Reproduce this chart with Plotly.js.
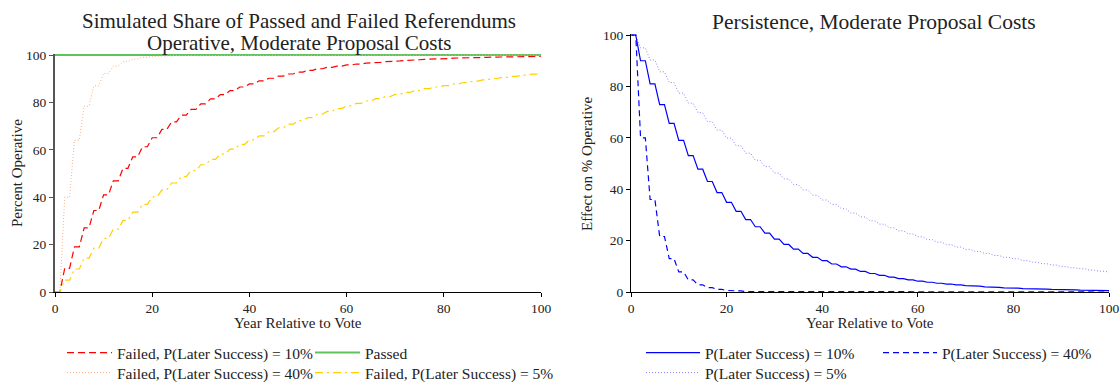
<!DOCTYPE html>
<html>
<head>
<meta charset="utf-8">
<script src="https://cdn.plot.ly/plotly-3.0.1.min.js"></script>
<style>html,body{margin:0;padding:0;background:#fff;}#chart{width:1120px;height:382px;}</style>
</head>
<body>
<div id="chart"></div>
<script>
// Years relative to vote
var years = [0,1,2,3,4,5,6,7,8,9,10,11,12,13,14,15,16,17,18,19,20,21,22,23,24,25,26,27,28,29,30,31,32,33,34,35,36,37,38,39,40,41,42,43,44,45,46,47,48,49,50,51,52,53,54,55,56,57,58,59,60,61,62,63,64,65,66,67,68,69,70,71,72,73,74,75,76,77,78,79,80,81,82,83,84,85,86,87,88,89,90,91,92,93,94,95,96,97,98,99,100];

// Left panel: percent operative
var failedP10 = [0,0,10,10,19,19,27.1,27.1,34.4,34.4,41.0,41.0,46.9,46.9,52.2,52.2,57.0,57.0,61.3,61.3,65.1,65.1,68.6,68.6,71.8,71.8,74.6,74.6,77.1,77.1,79.4,79.4,81.5,81.5,83.3,83.3,85.0,85.0,86.5,86.5,87.8,87.8,89.1,89.1,90.2,90.2,91.1,91.1,92.0,92.0,92.8,92.8,93.5,93.5,94.2,94.2,94.8,94.8,95.3,95.3,95.8,95.8,96.2,96.2,96.6,96.6,96.9,96.9,97.2,97.2,97.5,97.5,97.7,97.7,98.0,98.0,98.2,98.2,98.4,98.4,98.5,98.5,98.7,98.7,98.8,98.8,98.9,98.9,99.0,99.0,99.1,99.1,99.2,99.2,99.3,99.3,99.4,99.4,99.4,99.4,99.5];
var passedYears = [0,100];
var passedValues = [100,100];
var failedP40 = [0,0,40,40,64,64,78.4,78.4,87.0,87.0,92.2,92.2,95.3,95.3,97.2,97.2,98.3,98.3,99.0,99.0,99.4,99.4,99.6,99.6,99.8,99.8,99.9,99.9,99.9,99.9,100,100,100,100,100,100,100,100,100,100,100,100,100,100,100,100,100,100,100,100,100,100,100,100,100,100,100,100,100,100,100,100,100,100,100,100,100,100,100,100,100,100,100,100,100,100,100,100,100,100,100,100,100,100,100,100,100,100,100,100,100,100,100,100,100,100,100,100,100,100,100];
var failedP5 = [0,0,5,5,9.7,9.7,14.3,14.3,18.5,18.5,22.6,22.6,26.5,26.5,30.2,30.2,33.7,33.7,37.0,37.0,40.1,40.1,43.1,43.1,46.0,46.0,48.7,48.7,51.2,51.2,53.7,53.7,56.0,56.0,58.2,58.2,60.3,60.3,62.3,62.3,64.2,64.2,65.9,65.9,67.6,67.6,69.3,69.3,70.8,70.8,72.3,72.3,73.6,73.6,75.0,75.0,76.2,76.2,77.4,77.4,78.5,78.5,79.6,79.6,80.6,80.6,81.6,81.6,82.5,82.5,83.4,83.4,84.2,84.2,85.0,85.0,85.8,85.8,86.5,86.5,87.1,87.1,87.8,87.8,88.4,88.4,89.0,89.0,89.5,89.5,90.1,90.1,90.6,90.6,91.0,91.0,91.5,91.5,91.9,91.9,92.3];

// Right panel: effect on % operative (persistence)
var persistP10 = [100,100,90,90,81,81,72.9,72.9,65.6,65.6,59.0,59.0,53.1,53.1,47.8,47.8,43.0,43.0,38.7,38.7,34.9,34.9,31.4,31.4,28.2,28.2,25.4,25.4,22.9,22.9,20.6,20.6,18.5,18.5,16.7,16.7,15.0,15.0,13.5,13.5,12.2,12.2,10.9,10.9,9.8,9.8,8.9,8.9,8.0,8.0,7.2,7.2,6.5,6.5,5.8,5.8,5.2,5.2,4.7,4.7,4.2,4.2,3.8,3.8,3.4,3.4,3.1,3.1,2.8,2.8,2.5,2.5,2.3,2.3,2.0,2.0,1.8,1.8,1.6,1.6,1.5,1.5,1.3,1.3,1.2,1.2,1.1,1.1,1.0,1.0,0.9,0.9,0.8,0.8,0.7,0.7,0.6,0.6,0.6,0.6,0.5];
var persistP40 = [100,100,60,60,36,36,21.6,21.6,13.0,13.0,7.8,7.8,4.7,4.7,2.8,2.8,1.7,1.7,1.0,1.0,0.6,0.6,0.4,0.4,0.2,0.2,0.1,0.1,0.1,0.1,0,0,0,0,0,0,0,0,0,0,0,0,0,0,0,0,0,0,0,0,0,0,0,0,0,0,0,0,0,0,0,0,0,0,0,0,0,0,0,0,0,0,0,0,0,0,0,0,0,0,0,0,0,0,0,0,0,0,0,0,0,0,0,0,0,0,0,0,0,0,0];
var persistP5 = [100,100,95,95,90.3,90.3,85.7,85.7,81.5,81.5,77.4,77.4,73.5,73.5,69.8,69.8,66.3,66.3,63.0,63.0,59.9,59.9,56.9,56.9,54.0,54.0,51.3,51.3,48.8,48.8,46.3,46.3,44.0,44.0,41.8,41.8,39.7,39.7,37.7,37.7,35.8,35.8,34.1,34.1,32.4,32.4,30.7,30.7,29.2,29.2,27.7,27.7,26.4,26.4,25.0,25.0,23.8,23.8,22.6,22.6,21.5,21.5,20.4,20.4,19.4,19.4,18.4,18.4,17.5,17.5,16.6,16.6,15.8,15.8,15.0,15.0,14.2,14.2,13.5,13.5,12.9,12.9,12.2,12.2,11.6,11.6,11.0,11.0,10.5,10.5,9.9,9.9,9.4,9.4,9.0,9.0,8.5,8.5,8.1,8.1,7.7];

var tickVals = [0,20,40,60,80,100];
var tickText = ['0','20','40','60','80','100'];

var FONT = 'Liberation Serif, serif';
var W = 1120, H = 382;
function px(x){ return x / W; }
function py(y){ return 1 - y / H; }

var traces = [
  {x: years, y: failedP10, xaxis:'x', yaxis:'y', mode:'lines', name:'Failed, P(Later Success) = 10%', legend:'legend',
   line:{color:'#ff0000', width:1.2, dash:'7px,4px'}},
  {x: passedYears, y: passedValues, xaxis:'x', yaxis:'y', mode:'lines', name:'Passed', legend:'legend2',
   line:{color:'#5cc45c', width:2}},
  {x: years, y: failedP40, xaxis:'x', yaxis:'y', mode:'lines', name:'Failed, P(Later Success) = 40%', legend:'legend3',
   line:{color:'#ffae80', width:1, dash:'1px,2px'}},
  {x: years, y: failedP5, xaxis:'x', yaxis:'y', mode:'lines', name:'Failed, P(Later Success) = 5%', legend:'legend4',
   line:{color:'#ffd000', width:1.2, dash:'8px,4px,2px,4px'}},
  {x: years, y: persistP10, xaxis:'x2', yaxis:'y2', mode:'lines', name:'P(Later Success) = 10%', legend:'legend5',
   line:{color:'#0000ff', width:1.2}},
  {x: years, y: persistP40, xaxis:'x2', yaxis:'y2', mode:'lines', name:'P(Later Success) = 40%', legend:'legend6',
   line:{color:'#0000ff', width:1.2, dash:'6px,4px'}},
  {x: years, y: persistP5, xaxis:'x2', yaxis:'y2', mode:'lines', name:'P(Later Success) = 5%', legend:'legend7',
   line:{color:'#8484ff', width:1, dash:'1px,2px'}}
];

function axisBase(extra){
  var a = {range:[0,100], tickmode:'array', tickvals:tickVals, ticktext:tickText,
    ticks:'outside', ticklen:4, tickwidth:1, tickcolor:'#000', showline:true, linecolor:'#000', linewidth:1,
    showgrid:false, zeroline:false, fixedrange:true, automargin:false,
    tickfont:{family:FONT, size:13.5, color:'#222'}};
  for (var k in extra) a[k] = extra[k];
  return a;
}

function legendAt(x, yc, iw){
  return {x: px(x), y: py(yc), xanchor:'left', yanchor:'middle', orientation:'v',
    bgcolor:'rgba(0,0,0,0)', borderwidth:0, itemwidth:iw, tracegroupgap:0,
    font:{family:FONT, size:15.5, color:'#222'}};
}

// y ranges extend slightly past 100 so lines drawn at 100 are not clipped;
// domain tops are set so that the value 100 stays at the same pixel row
var layout = {
  width: W, height: H,
  margin:{l:0, r:0, t:0, b:0, pad:0, autoexpand:false},
  paper_bgcolor:'#fff', plot_bgcolor:'#fff',
  showlegend:true,
  xaxis: axisBase({domain:[px(55), px(541)], anchor:'y'}),
  yaxis: axisBase({domain:[py(292), py(53.6)], range:[0,100.6], anchor:'x', linecolor:'#555', linewidth:2, tickcolor:'#555'}),
  xaxis2: axisBase({domain:[px(631), px(1109)], anchor:'y2'}),
  yaxis2: axisBase({domain:[py(292), py(33.5)], range:[0,100.6], anchor:'x2'}),
  legend: legendAt(62, 353, 45),
  legend2: legendAt(310, 353, 45),
  legend3: legendAt(62, 373, 45),
  legend4: legendAt(310, 373, 45),
  legend5: legendAt(641, 353, 54),
  legend6: legendAt(878, 353, 54),
  legend7: legendAt(641, 373, 54),
  annotations: [
    {text:'Simulated Share of Passed and Failed Referendums', x:px(299), y:py(21), xref:'paper', yref:'paper',
     showarrow:false, xanchor:'center', yanchor:'middle', font:{family:FONT, size:21, color:'#222'}},
    {text:'Operative, Moderate Proposal Costs', x:px(299), y:py(43), xref:'paper', yref:'paper',
     showarrow:false, xanchor:'center', yanchor:'middle', font:{family:FONT, size:21, color:'#222'}},
    {text:'Persistence, Moderate Proposal Costs', x:px(874), y:py(22), xref:'paper', yref:'paper',
     showarrow:false, xanchor:'center', yanchor:'middle', font:{family:FONT, size:21.5, color:'#222'}},
    {text:'Year Relative to Vote', x:px(298), y:py(323), xref:'paper', yref:'paper',
     showarrow:false, xanchor:'center', yanchor:'middle', font:{family:FONT, size:15, color:'#222'}},
    {text:'Year Relative to Vote', x:px(870), y:py(323), xref:'paper', yref:'paper',
     showarrow:false, xanchor:'center', yanchor:'middle', font:{family:FONT, size:15, color:'#222'}},
    {text:'Percent Operative', x:px(17), y:py(173), xref:'paper', yref:'paper', textangle:-90,
     showarrow:false, xanchor:'center', yanchor:'middle', font:{family:FONT, size:15, color:'#222'}},
    {text:'Effect on % Operative', x:px(587), y:py(164), xref:'paper', yref:'paper', textangle:-90,
     showarrow:false, xanchor:'center', yanchor:'middle', font:{family:FONT, size:15, color:'#222'}}
  ]
};

Plotly.newPlot('chart', traces, layout, {staticPlot:true, displayModeBar:false});
</script>
</body>
</html>
